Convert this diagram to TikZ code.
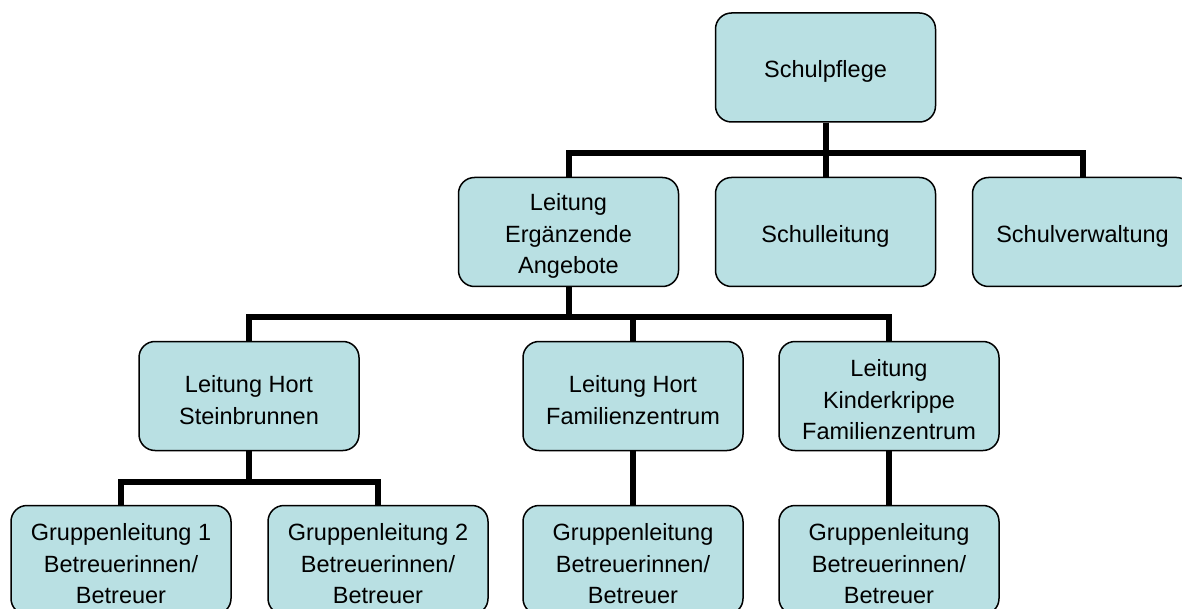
\documentclass[tikz,border=0pt]{standalone}
\usepackage{fontspec}
\setmainfont{Liberation Sans}
\definecolor{boxfill}{RGB}{185,224,227}
\tikzset{
  orgbox/.style={draw=black, line width=1.5pt, fill=boxfill, rounded corners=16pt,
    minimum width=220pt, minimum height=109pt, inner sep=0pt,
    label={[anchor=center, yshift=-4pt, align=center, inner sep=0pt,
      font=\fontsize{23.5pt}{31.5pt}\selectfont]center:#1}},
  conn/.style={draw=black, line width=6pt, line join=miter}
}
\begin{document}
\begin{tikzpicture}[x=1pt,y=-1pt]
\useasboundingbox (0,0) rectangle (1182,609);
\clip (0,0) rectangle (1182,609);
\fill[white] (0,0) rectangle (1182,609);
\coordinate (bar1) at (0,153);
\coordinate (bar2) at (0,317);
\coordinate (bar3) at (0,482);
\node[orgbox={Schulpflege}] (A) at (825.5,67.5) {};
\node[orgbox={Leitung\\Ergänzende\\Angebote}] (B) at (568.5,232) {};
\node[orgbox={Schulleitung}] (C) at (825.5,232) {};
\node[orgbox={Schulverwaltung}] (D) at (1082.5,232) {};
\node[orgbox={Leitung Hort\\Steinbrunnen}] (E) at (249,396) {};
\node[orgbox={Leitung Hort\\Familienzentrum}] (F) at (633,396) {};
\node[orgbox={Leitung\\Kinderkrippe\\Familienzentrum}] (G) at (889,396) {};
\node[orgbox={Gruppenleitung 1\\Betreuerinnen/\\Betreuer}] (H1) at (121,560) {};
\node[orgbox={Gruppenleitung 2\\Betreuerinnen/\\Betreuer}] (H2) at (378,560) {};
\node[orgbox={Gruppenleitung\\Betreuerinnen/\\Betreuer}] (H3) at (633,560) {};
\node[orgbox={Gruppenleitung\\Betreuerinnen/\\Betreuer}] (H4) at (889,560) {};
\draw[conn] (A.south) -- (A.south |- bar1) -| (B.north);
\draw[conn] (A.south) -- (A.south |- bar1) -| (D.north);
\draw[conn] (A.south) -- (C.north);
\draw[conn] (B.south) -- (B.south |- bar2) -| (E.north);
\draw[conn] (B.south) -- (B.south |- bar2) -| (F.north);
\draw[conn] (B.south) -- (B.south |- bar2) -| (G.north);
\draw[conn] (E.south) -- (E.south |- bar3) -| (H1.north);
\draw[conn] (E.south) -- (E.south |- bar3) -| (H2.north);
\draw[conn] (F.south) -- (H3.north);
\draw[conn] (G.south) -- (H4.north);
\end{tikzpicture}
\end{document}
